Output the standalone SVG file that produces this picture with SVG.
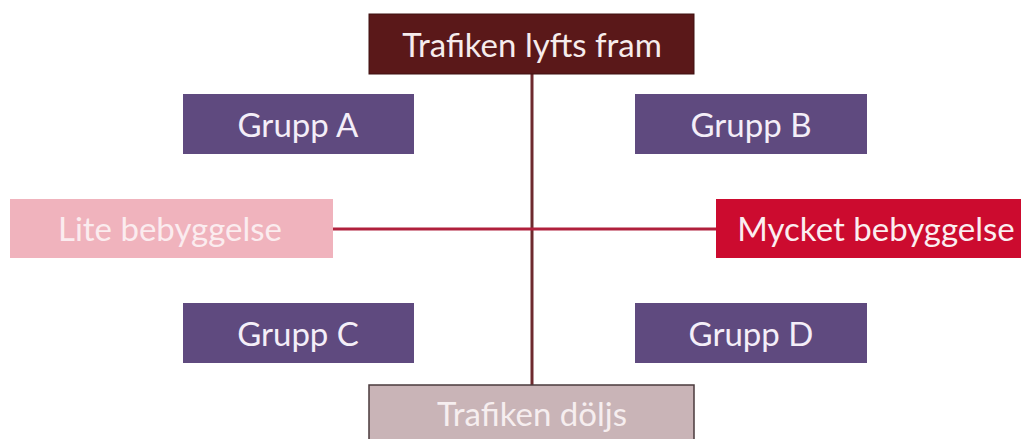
<svg xmlns="http://www.w3.org/2000/svg" width="1028" height="439" viewBox="0 0 1028 439">
<style>
text{font-family:Lato,"Open Sans","Liberation Sans",sans-serif;font-size:33px;text-anchor:middle;dominant-baseline:central}
.g rect{fill:#5f4a7f}
.g text{fill:#f4eef8}
</style>
<rect width="1028" height="439" fill="#ffffff"/>
<g id="connectors">
<line x1="532" y1="74" x2="532" y2="385" stroke="#6e2a2e" stroke-width="3"/>
<line x1="333" y1="229" x2="716" y2="229" stroke="#b0203c" stroke-width="3"/>
</g>
<g id="top">
<rect x="369" y="14" width="325" height="60" fill="#5a1819" stroke="#3e1010" stroke-width="1"/>
<text x="532" y="44" fill="#f6ecec">Trafiken lyfts fram</text>
</g>
<g id="bottom">
<rect x="369" y="385" width="325" height="60" fill="#c9b4b7" stroke="#4a3a3c" stroke-width="1.5"/>
<text x="532" y="413" fill="#f6eeef">Trafiken döljs</text>
</g>
<g id="lite">
<rect x="10" y="199" width="323" height="59" fill="#f0b3bd"/>
<text x="170" y="228" fill="#fbecef">Lite bebyggelse</text>
</g>
<g id="mycket">
<rect x="716" y="199" width="305" height="59" fill="#cc0b2f"/>
<text x="876" y="228" fill="#fbeef0">Mycket bebyggelse</text>
</g>
<g id="grupp-a" class="g">
<rect x="183" y="94" width="231" height="60"/>
<text x="298" y="124">Grupp A</text>
</g>
<g id="grupp-b" class="g">
<rect x="635" y="94" width="232" height="60"/>
<text x="751" y="124">Grupp B</text>
</g>
<g id="grupp-c" class="g">
<rect x="183" y="303" width="231" height="60"/>
<text x="298" y="333">Grupp C</text>
</g>
<g id="grupp-d" class="g">
<rect x="635" y="303" width="232" height="60"/>
<text x="751" y="333">Grupp D</text>
</g>
</svg>
